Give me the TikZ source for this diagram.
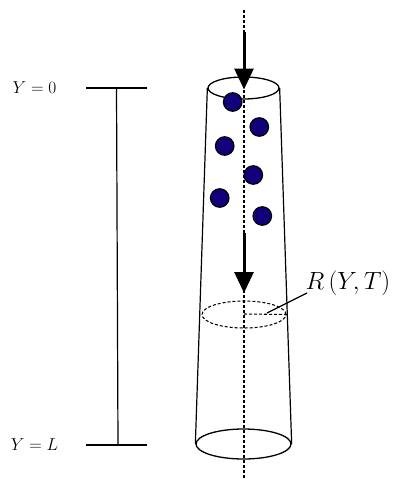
\documentclass[tikz,border=0pt]{standalone}
\usetikzlibrary{arrows.meta,shapes.geometric}
\definecolor{beadblue}{HTML}{10007A}

\begin{document}
\begin{tikzpicture}[
  x=1pt,y=-1pt,
  ring/.style={draw,ellipse,inner sep=0pt,line width=1.3pt},
  bead/.style={draw,circle,fill=beadblue,line width=1.2pt,inner sep=0pt,minimum size=18.5pt},
  wall/.style={line width=1.2pt},
  axisline/.style={line width=1.05pt,dash pattern=on 3pt off 2pt},
  flow/.style={-{Triangle[length=21pt,width=19pt]},line width=3pt},
  endlabel/.style={inner sep=0pt,font=\fontsize{17}{20}\selectfont}
]
\useasboundingbox (0,0) rectangle (393,479);

\coordinate (axistop) at (244,10);
\coordinate (axisbot) at (244,478);
\draw[axisline] (axistop) -- (axisbot);

\node[ring,minimum width=71pt,minimum height=22pt] (topring) at (243.5,88) {};
\node[ring,minimum width=95pt,minimum height=30pt] (botring) at (243.5,444) {};
\node[ring,axisline,minimum width=84pt,minimum height=27pt] (midring) at (244,314.5) {};
\draw[wall] (topring.west) -- (botring.west);
\draw[wall] (topring.east) -- (botring.east);

\node[bead] (b1) at (232.7,102) {};
\node[bead] (b2) at (259.3,127) {};
\node[bead] (b3) at (224.7,146) {};
\node[bead] (b4) at (253.3,175) {};
\node[bead] (b5) at (219.7,198) {};
\node[bead] (b6) at (262.3,216) {};

% flow arrows on the axis
\coordinate (inA) at (244,32);
\coordinate (inB) at (244,89.5);
\coordinate (downA) at (244,233);
\coordinate (downB) at (244,293);
\draw[flow] (inA) -- (inB);
\draw[flow] (downA) -- (downB);

% radius
\coordinate (midc) at (244,314);
\draw[axisline] (midc) -- (midring.east);
\node[inner sep=0pt,font=\fontsize{26}{30}\selectfont] (radius) at (348,283) {$R\,(Y,T)$};
\coordinate (leadA) at (267,313);
\coordinate (leadB) at (307,293);
\draw[wall] (leadA) -- (leadB);

% length scale
\coordinate (topL) at (86,88);
\coordinate (topR) at (147,88);
\coordinate (topM) at (116.5,88);
\coordinate (botL) at (86,445);
\coordinate (botR) at (147,445);
\coordinate (botM) at (118,445);
\draw[wall] (topL) -- (topR);
\draw[wall] (botL) -- (botR);
\draw[wall] (topM) -- (botM);
\node[endlabel] (ytop) at (34.5,88) {$Y=0$};
\node[endlabel] (ybot) at (34.5,445) {$Y=L$};
\end{tikzpicture}
\end{document}
